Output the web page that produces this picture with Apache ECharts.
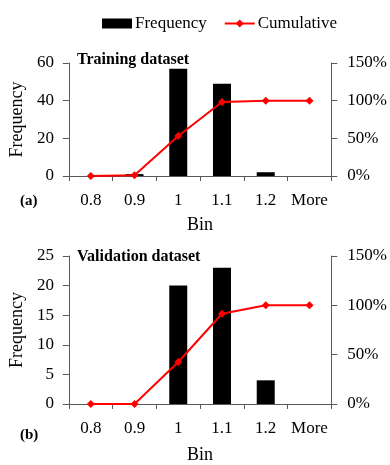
<!DOCTYPE html>
<html><head><meta charset="utf-8">
<script src="https://cdn.jsdelivr.net/npm/echarts@6/dist/echarts.min.js"></script>
<style>html,body{margin:0;padding:0;background:#fff}#c{width:390px;height:465px}</style>
</head><body><div id="c"></div>
<script>
var bins = ['0.8','0.9','1','1.1','1.2','More'];
var trainFreq = [0, 1, 57, 49, 2, 0];
var trainCum = [0, 0.9, 53.2, 98.2, 100, 100];
var validFreq = [0, 0, 20, 23, 4, 0];
var validCum = [0, 0, 42.6, 91.5, 100, 100];
var leftTicksTop = [0, 60, 20];
var leftTicksBottom = [0, 25, 5];
var pctTicks = [0, 150, 50];

var FONT = '"Liberation Serif", "Times New Roman", serif';
var AX = '#595959';
var chart = echarts.init(document.getElementById('c'));

function xAxis(gi, gap){
  return {type:'category', gridIndex:gi, data:bins,
    name:'Bin', nameLocation:'middle', nameGap:gap,
    nameTextStyle:{fontFamily:FONT,fontSize:18,color:'#000'},
    axisLine:{lineStyle:{color:AX,width:1}},
    axisTick:{show:true,length:5,lineStyle:{color:AX}},
    axisLabel:{fontFamily:FONT,fontSize:17,color:'#000',margin:16,interval:0}};
}
function yLeft(gi, t){
  return {type:'value', gridIndex:gi, min:t[0], max:t[1], interval:t[2],
    name:'Frequency', nameLocation:'middle', nameGap:35,
    nameTextStyle:{fontFamily:FONT,fontSize:18,color:'#000'},
    axisLine:{show:true,lineStyle:{color:AX}},
    axisTick:{show:true,length:6,lineStyle:{color:AX}},
    splitLine:{show:false},
    axisLabel:{fontFamily:FONT,fontSize:17,color:'#000',margin:15}};
}
function yRight(gi){
  return {type:'value', gridIndex:gi, position:'right', min:pctTicks[0], max:pctTicks[1], interval:pctTicks[2],
    axisLine:{show:true,lineStyle:{color:AX}},
    axisTick:{show:true,length:6,lineStyle:{color:AX}},
    splitLine:{show:false},
    axisLabel:{fontFamily:FONT,fontSize:17,color:'#000',margin:16,formatter:'{value}%'}};
}
function barS(xi, yi, d){
  return {name:'Frequency', type:'bar', xAxisIndex:xi, yAxisIndex:yi, data:d, barWidth:18,
    itemStyle:{color:'#000'}, silent:true};
}
function lineS(xi, yi, d){
  return {name:'Cumulative', type:'line', xAxisIndex:xi, yAxisIndex:yi, data:d,
    symbol:'diamond', symbolSize:8, lineStyle:{color:'#ff0000',width:2},
    itemStyle:{color:'#ff0000'}, silent:true};
}

chart.setOption({
  animation:false,
  textStyle:{fontFamily:FONT},
  legend:{left:97, top:10, itemWidth:30, itemHeight:10, itemGap:17,
    textStyle:{fontFamily:FONT,fontSize:17,color:'#000',padding:[0,0,0,-2]},
    data:[{name:'Frequency',icon:'rect'},{name:'Cumulative'}]},
  title:[
    {text:'Training dataset', left:72, top:47, textStyle:{fontFamily:FONT,fontSize:16,fontWeight:'bold',color:'#000'}},
    {text:'Validation dataset', left:72, top:244, textStyle:{fontFamily:FONT,fontSize:16,fontWeight:'bold',color:'#000'}},
    {text:'(a)', left:15, top:189, textStyle:{fontFamily:FONT,fontSize:15,fontWeight:'bold',color:'#000'}},
    {text:'(b)', left:15, top:423, textStyle:{fontFamily:FONT,fontSize:15,fontWeight:'bold',color:'#000'}}
  ],
  grid:[
    {left:68, right:57, top:63, height:113},
    {left:68, right:57, top:256, height:153}
  ],
  xAxis:[xAxis(0, 40), xAxis(1, 42)],
  yAxis:[yLeft(0, leftTicksTop), yRight(0), yLeft(1, leftTicksBottom), yRight(1)],
  series:[
    barS(0,0,trainFreq), lineS(0,1,trainCum),
    barS(1,2,validFreq), lineS(1,3,validCum)
  ]
});
</script></body></html>
